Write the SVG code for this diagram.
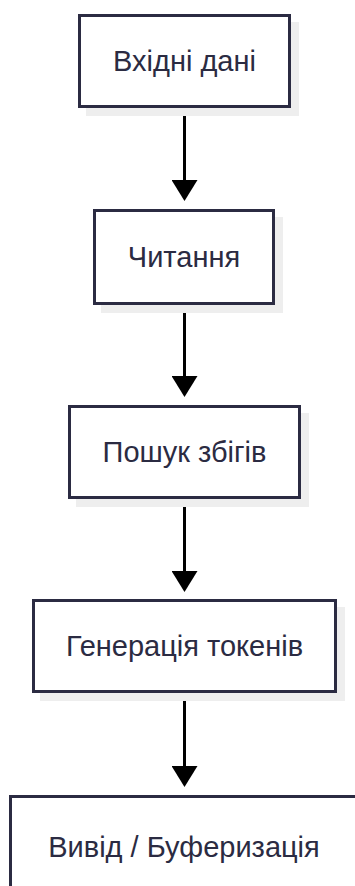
<svg xmlns="http://www.w3.org/2000/svg" width="355" height="886" viewBox="0 0 355 886">
  <style>
    .box { fill: #ffffff; stroke: #2b2b42; stroke-width: 3; }
    .shadow { fill: #eeeeee; stroke: none; }
    .label { font-family: "Liberation Sans", Arial, sans-serif; font-size: 29px; fill: #2b2b42; text-anchor: middle; }
    .edge { stroke: #000000; stroke-width: 3; fill: none; marker-end: url(#arrow); }
  </style>
  <defs>
    <marker id="arrow" markerUnits="userSpaceOnUse" markerWidth="21" markerHeight="26" viewBox="0 0 21 26" refX="0" refY="13" orient="auto">
      <path d="M0,0 L21,13 L0,26 Z" fill="#000000"/>
    </marker>
  </defs>
  <rect width="355" height="886" fill="#ffffff"/>
  <g id="connectors">
    <path class="edge" d="M184.5,108 L184.5,180"/>
    <path class="edge" d="M184.5,305 L184.5,376"/>
    <path class="edge" d="M184.5,499 L184.5,571"/>
    <path class="edge" d="M184.5,693 L184.5,766"/>
  </g>
  <g id="node1">
    <rect class="shadow" x="86" y="22" width="213" height="94"/>
    <rect class="box" x="79.5" y="15.5" width="210" height="91"/>
    <text class="label" x="184.5" y="71">Вхідні дані</text>
  </g>
  <g id="node2">
    <rect class="shadow" x="101" y="217" width="182" height="96"/>
    <rect class="box" x="94.5" y="210.5" width="179" height="93"/>
    <text class="label" x="184" y="267">Читання</text>
  </g>
  <g id="node3">
    <rect class="shadow" x="76" y="413" width="233" height="94"/>
    <rect class="box" x="69.5" y="406.5" width="230" height="91"/>
    <text class="label" x="184.5" y="462">Пошук збігів</text>
  </g>
  <g id="node4">
    <rect class="shadow" x="40" y="607" width="305" height="94"/>
    <rect class="box" x="33.5" y="600.5" width="302" height="91"/>
    <text class="label" x="184.5" y="656">Генерація токенів</text>
  </g>
  <g id="node5">
    <rect class="shadow" x="17" y="803" width="351" height="94"/>
    <rect class="box" x="10.5" y="796.5" width="348" height="91"/>
    <text class="label" x="184" y="857">Вивід / Буферизація</text>
  </g>
</svg>
